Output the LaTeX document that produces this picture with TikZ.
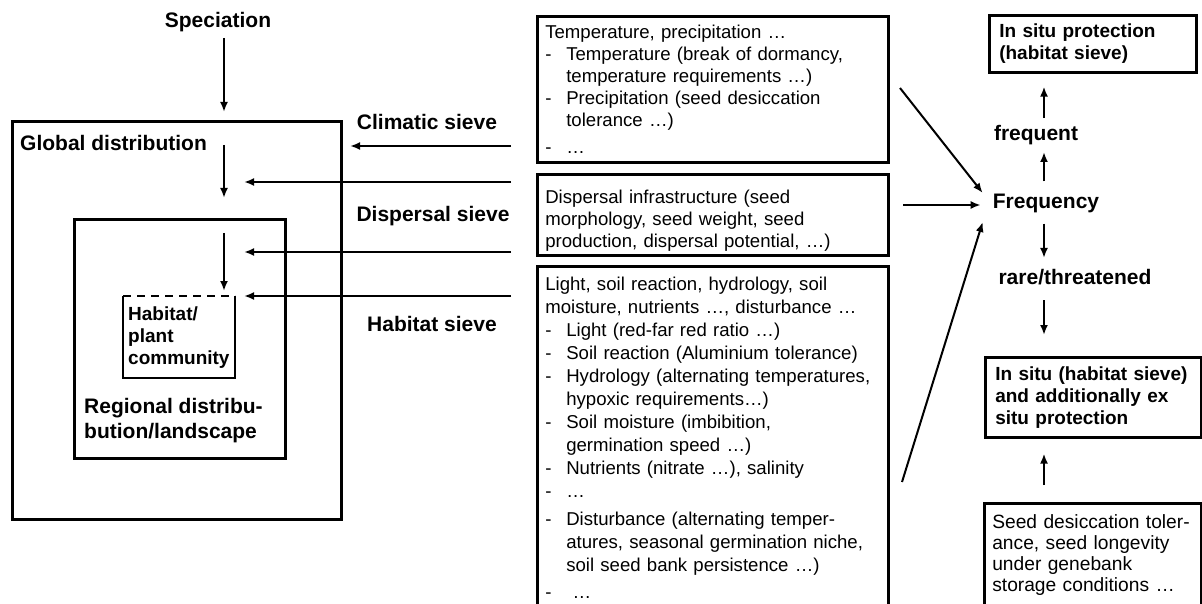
\documentclass[tikz,border=0pt]{standalone}
\usepackage{fontspec}
\setmainfont{Liberation Sans}
\usetikzlibrary{arrows.meta}

\newcommand{\itm}{\makebox[21pt][l]{-}}
\newcommand{\ind}{\hspace*{21pt}}

\begin{document}
\begin{tikzpicture}[x=1pt, y=-1pt, >={Latex[length=10pt,width=8pt]},
    big/.style={font=\fontsize{21}{25}\selectfont\bfseries, inner sep=0pt},
    frame/.style={line width=3pt},
    boldbox/.style={draw, line width=2.6pt, anchor=north west, align=left,
        font=\fontsize{19}{22}\selectfont\bfseries, inner xsep=10pt},
    textbox/.style={draw, line width=2.6pt, anchor=north west, align=left,
        font=\fontsize{18.6}{22}\selectfont, inner xsep=8pt, text width=335pt},
    arr/.style={->, line width=2pt}]
    \useasboundingbox (0,0) rectangle (1202,604);

    % ==== NESTED DISTRIBUTION FRAMES ====
    \draw[frame] (12,122) rectangle (341,519);
    \draw[frame] (74,220) rectangle (285,458);
    \draw[line width=2.5pt] (123,296) -- (123,378) -- (235,378) -- (235,296);
    \draw[line width=2.5pt, dash pattern=on 8pt off 6pt] (123,296) -- (235,296);

    % ==== LEFT LABELS ====
    \node[big] (spec) at (218,22) {Speciation};
    \node[big, anchor=west] (globlbl) at (20,143) {Global distribution};
    \node[big, anchor=west, align=left] (regiolbl) at (84,421) {Regional distribu-\\bution/landscape};
    \node[anchor=west, align=left, inner sep=0pt, font=\fontsize{19}{22}\selectfont\bfseries]
        (habitlbl) at (128,338) {Habitat/\\plant\\community};

    % ==== SIEVES ====
    \node[big] (climsv) at (427,122) {Climatic sieve};
    \node[big] (dispsv) at (433,216) {Dispersal sieve};
    \node[big] (habsv) at (432,324) {Habitat sieve};

    % ==== DOWNWARD ARROWS ====
    \coordinate (s0) at (224,38);  \coordinate (s1) at (224,112);
    \coordinate (g0) at (224,145); \coordinate (g1) at (224,198);
    \coordinate (r0) at (224,233); \coordinate (r1) at (224,291);
    \draw[arr] (s0) -- (s1);
    \draw[arr] (g0) -- (g1);
    \draw[arr] (r0) -- (r1);

    % ==== SIEVE ARROWS ====
    \coordinate (c0) at (511,146); \coordinate (c1) at (350,146);
    \coordinate (d0) at (511,182); \coordinate (d1) at (244,182);
    \coordinate (e0) at (511,252); \coordinate (e1) at (244,252);
    \coordinate (h0) at (511,296); \coordinate (h1) at (244,296);
    \draw[arr] (c0) -- (c1);
    \draw[arr] (d0) -- (d1);
    \draw[arr] (e0) -- (e1);
    \draw[arr] (h0) -- (h1);

    % ==== FACTOR BOXES ====
    \node[textbox, minimum height=146pt] (climbox) at (536,15) {%
        Temperature, precipitation …\\
        \itm Temperature (break of dormancy,\\
        \ind temperature requirements …)\\
        \itm Precipitation (seed desiccation\\
        \ind tolerance …)\\[5pt]
        \itm …};
    \node[textbox, minimum height=81pt] (dispbox) at (536,173) {%
        \rule{0pt}{25pt}Dispersal infrastructure (seed\\
        morphology, seed weight, seed\\
        production, dispersal potential, …)};
    \node[textbox, inner ysep=11pt, font=\fontsize{18.6}{23}\selectfont] (habbox) at (536,265) {%
        Light, soil reaction, hydrology, soil\\
        moisture, nutrients …, disturbance …\\
        \itm Light (red-far red ratio …)\\
        \itm Soil reaction (Aluminium tolerance)\\
        \itm Hydrology (alternating temperatures,\\
        \ind hypoxic requirements…)\\
        \itm Soil moisture (imbibition,\\
        \ind germination speed …)\\
        \itm Nutrients (nitrate …), salinity\\
        \itm …\\[5pt]
        \itm Disturbance (alternating temper-\\
        \ind atures, seasonal germination niche,\\
        \ind soil seed bank persistence …)\\[4pt]
        \itm\ …\\[30pt]\mbox{}};

    % ==== FREQUENCY ====
    \node[big] (freq) at (1046,203) {Frequency};
    \node[big] (frequent) at (1036,135) {frequent};
    \node[big] (rare) at (1075,277) {rare/threatened};

    \coordinate (f1) at (900,88);
    \coordinate (f2) at (903,205);
    \coordinate (f3) at (902,482);
    \draw[arr] (f1) -- ([shift={(-10pt,10pt)}]freq.west);
    \draw[arr] (f2) -- ([shift={(-12pt,-2pt)}]freq.west);
    \draw[arr] (f3) -- ([shift={(-10pt,-19pt)}]freq.west);

    % ==== PROTECTION ====
    \node[boldbox, text width=187pt, minimum height=57pt] (insitu) at (988,14)
        {In situ protection\\(habitat sieve)};
    \node[boldbox, text width=196pt, minimum height=80pt] (exsitu) at (984,356)
        {In situ (habitat sieve)\\and additionally ex\\situ protection};
    \node[draw, line width=2.6pt, anchor=north west, align=left, inner xsep=8pt,
        font=\fontsize{19.2}{21}\selectfont, text width=201pt, minimum height=103pt]
        (seedbox) at (983,502)
        {Seed desiccation toler-\\ance, seed longevity\\under genebank\\storage conditions …};

    \coordinate (vx) at (1044,0);
    \draw[arr, shorten <=7pt, shorten >=13pt] (frequent.north -| vx) -- (insitu.south -| vx);
    \draw[arr, shorten <=12pt, shorten >=7pt] (freq.north -| vx) -- (frequent.south -| vx);
    \draw[arr, shorten <=11pt, shorten >=11pt] (freq.south -| vx) -- (rare.north -| vx);
    \draw[arr, shorten <=15pt, shorten >=21pt] (rare.south -| vx) -- (exsitu.north -| vx);
    \draw[arr, shorten <=17pt, shorten >=15pt] (seedbox.north -| vx) -- (exsitu.south -| vx);
\end{tikzpicture}
\end{document}
